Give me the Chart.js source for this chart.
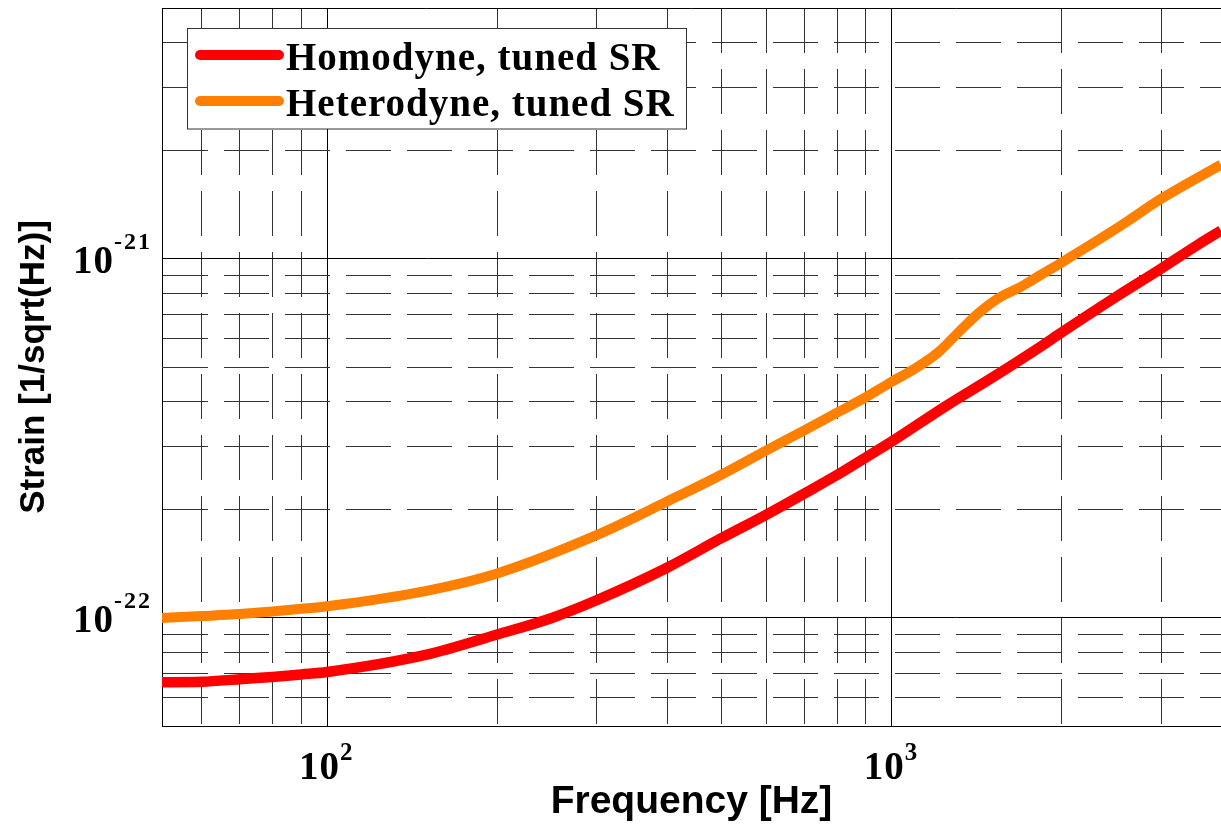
<!DOCTYPE html>
<html>
<head>
<meta charset="utf-8">
<script src="https://cdn.jsdelivr.net/npm/chart.js@4.4.1/dist/chart.umd.min.js"></script>
<style>
  html, body { margin: 0; padding: 0; background: #fff; }
  #wrap { width: 1221px; height: 826px; }
</style>
</head>
<body>
<div id="wrap"><canvas id="strainChart"></canvas></div>
<script>
// values
const homodyneFreq = [51, 60, 70, 80, 90, 100, 150, 200, 250, 300, 400, 500, 600, 700, 800, 900, 1000, 1250, 1500, 1830, 2000, 2500, 3000, 3500, 3830];
const homodyneStrain = [6.62e-23, 6.64e-23, 6.75e-23, 6.85e-23, 6.96e-23, 7.07e-23, 7.9e-23, 8.99e-23, 1.0e-22, 1.12e-22, 1.38e-22, 1.67e-22, 1.94e-22, 2.22e-22, 2.5e-22, 2.8e-22, 3.1e-22, 3.9e-22, 4.65e-22, 5.68e-22, 6.24e-22, 7.85e-22, 9.4e-22, 1.1e-21, 1.2e-21];

const heterodyneFreq = [51, 60, 70, 80, 90, 100, 150, 200, 300, 400, 500, 600, 700, 800, 900, 1000, 1100, 1210, 1320, 1430, 1550, 1690, 1830, 2000, 2550, 3000, 3830];
const heterodyneStrain = [1.0e-22, 1.012e-22, 1.025e-22, 1.042e-22, 1.06e-22, 1.078e-22, 1.19e-22, 1.33e-22, 1.70e-22, 2.11e-22, 2.51e-22, 2.93e-22, 3.33e-22, 3.73e-22, 4.12e-22, 4.55e-22, 4.95e-22, 5.5e-22, 6.3e-22, 7.1e-22, 7.8e-22, 8.35e-22, 9.0e-22, 9.78e-22, 1.24e-21, 1.47e-21, 1.83e-21];

const seriesLabels = ["Homodyne, tuned SR", "Heterodyne, tuned SR"];
const seriesColors = ["#ff0000", "#ff8000"];

const xRange = [51, 3830];
const yRange = [5e-23, 5e-21];
const xGridTicks = [60, 70, 80, 90, 100, 200, 300, 400, 500, 600, 700, 800, 900, 1000, 2000, 3000];
const yGridTicks = [6e-23, 7e-23, 8e-23, 9e-23, 1e-22, 2e-22, 3e-22, 4e-22, 5e-22, 6e-22, 7e-22, 8e-22, 9e-22, 1e-21, 2e-21, 3e-21, 4e-21];
const xLabelExps = [2, 3];
const yLabelExps = [-22, -21];

const toPoints = (xs, ys) => xs.map((x, i) => ({x: x, y: ys[i]}));

const isDecade = (v) => {
    const l = Math.log10(v);
    return Math.abs(l - Math.round(l)) < 1e-6;
}

const gridColor = (ctx) => (ctx.tick && isDecade(ctx.tick.value)) ? "#000" : "#333";
const gridDash = (ctx) => (ctx.tick && !isDecade(ctx.tick.value)) ? [45, 16] : [];

// superscript tick labels, legend box and top frame line
const decorPlugin = {
    id: "decor",
    afterDraw(chart) {
        const ctx = chart.ctx;
        const area = chart.chartArea;
        const xs = chart.scales.x;
        const ys = chart.scales.y;

        ctx.save();
        ctx.strokeStyle = "#000";
        ctx.lineWidth = 1;
        ctx.beginPath();
        ctx.moveTo(area.left, area.top + 0.5);
        ctx.lineTo(area.right, area.top + 0.5);
        ctx.stroke();

        ctx.fillStyle = "#000";
        ctx.textAlign = "left";
        ctx.textBaseline = "alphabetic";

        xLabelExps.forEach(e => {
            const px = xs.getPixelForValue(Math.pow(10, e));
            ctx.font = 'bold 39px "Liberation Serif"';
            ctx.letterSpacing = "1px";
            ctx.fillText("10", px - 28, 779);
            ctx.font = 'bold 25px "Liberation Serif"';
            ctx.letterSpacing = "2px";
            ctx.fillText(String(e), px + 13, 760);
        });

        yLabelExps.forEach(e => {
            const py = ys.getPixelForValue(Math.pow(10, e));
            ctx.font = 'bold 39px "Liberation Serif"';
            ctx.letterSpacing = "1px";
            ctx.fillText("10", 73, py + 14);
            ctx.font = 'bold 24px "Liberation Serif"';
            ctx.letterSpacing = "2px";
            ctx.fillText(String(e), 114, py - 9.5);
        });

        // legend
        ctx.letterSpacing = "0px";
        ctx.fillStyle = "#fff";
        ctx.fillRect(187, 28.5, 499, 100.5);
        ctx.strokeStyle = "#333";
        ctx.lineWidth = 1;
        ctx.strokeRect(187.5, 28.5, 499, 100.5);

        chart.data.datasets.forEach((ds, i) => {
            const cy = 55 + i * 46;
            ctx.strokeStyle = ds.borderColor;
            ctx.lineWidth = 10;
            ctx.lineCap = "round";
            ctx.beginPath();
            ctx.moveTo(200, cy);
            ctx.lineTo(279, cy);
            ctx.stroke();
            ctx.fillStyle = "#000";
            ctx.font = 'bold 39px "Liberation Serif"';
            ctx.letterSpacing = "1px";
            ctx.fillText(ds.label, 286, 69.5 + i * 46);
        });
        ctx.restore();
    }
};

new Chart(document.getElementById("strainChart"), {
    type: "line",
    data: {
        datasets: [
            {
                label: seriesLabels[0],
                data: toPoints(homodyneFreq, homodyneStrain),
                borderColor: seriesColors[0],
                borderWidth: 10.5,
                pointRadius: 0,
                cubicInterpolationMode: "monotone",
                fill: false
            },
            {
                label: seriesLabels[1],
                data: toPoints(heterodyneFreq, heterodyneStrain),
                borderColor: seriesColors[1],
                borderWidth: 10,
                pointRadius: 0,
                cubicInterpolationMode: "monotone",
                fill: false
            }
        ]
    },
    options: {
        responsive: true,
        maintainAspectRatio: false,
        animation: false,
        devicePixelRatio: 1,
        layout: { padding: { top: 8, right: 0, left: 0, bottom: 0 } },
        plugins: {
            legend: { display: false },
            tooltip: { enabled: false }
        },
        scales: {
            x: {
                type: "logarithmic",
                min: xRange[0],
                max: xRange[1],
                afterBuildTicks: (scale) => { scale.ticks = xGridTicks.map(v => ({value: v})); },
                afterFit: (scale) => { scale.height = 100; },
                ticks: { display: false },
                grid: { color: gridColor, lineWidth: 1, drawTicks: false },
                border: { display: true, color: "#000", width: 1, dash: gridDash },
                title: {
                    display: true,
                    text: "Frequency [Hz]",
                    color: "#000",
                    font: { family: '"Liberation Sans"', size: 39, weight: "bold" },
                    padding: { top: 0, bottom: 0 }
                }
            },
            y: {
                type: "logarithmic",
                min: yRange[0],
                max: yRange[1],
                afterBuildTicks: (scale) => { scale.ticks = yGridTicks.map(v => ({value: v})); },
                afterFit: (scale) => { scale.width = 162; },
                ticks: { display: false },
                grid: { color: gridColor, lineWidth: 1, drawTicks: false },
                border: { display: true, color: "#000", width: 1, dash: gridDash },
                title: {
                    display: true,
                    text: "Strain [1/sqrt(Hz)]",
                    color: "#000",
                    font: { family: '"Liberation Sans"', size: 35, weight: "bold" },
                    padding: { top: 13, bottom: 0 }
                }
            }
        }
    },
    plugins: [decorPlugin]
});
</script>
</body>
</html>
